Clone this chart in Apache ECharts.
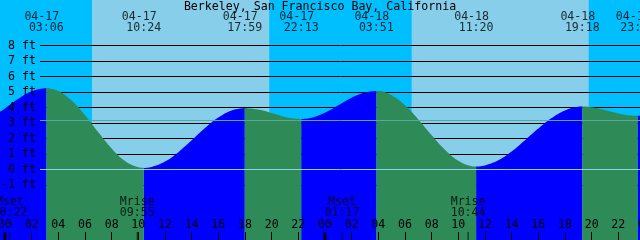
<!DOCTYPE html>
<html><head><meta charset="utf-8">
<script src="https://cdn.jsdelivr.net/npm/echarts@6/dist/echarts.min.js"></script>
<style>html,body{margin:0;padding:0;background:#fff}#c{width:640px;height:240px}</style>
</head><body><div id="c"></div>
<script>
const titleText = 'Berkeley, San Francisco Bay, California';
// hours counted from 04-17 00:00
const tideHours = [-1,0,1,2,3.1,4,5,6,7,8,9,10,10.4,11,12,13,14,15,16,17,17.983,19,20,21,22,22.217,23,24,25,26,27,27.85,28,29,30,31,32,33,34,35,35.333,36,37,38,39,40,41,42,43,43.3,44,45,46,47,47.45,48];
const tideFeet = [3.38,3.94,4.56,5.05,5.26,5.07,4.45,3.50,2.40,1.36,0.55,0.14,0.10,0.16,0.51,1.12,1.88,2.67,3.35,3.81,3.97,3.87,3.64,3.39,3.26,3.25,3.34,3.66,4.14,4.63,4.97,5.07,5.07,4.79,4.14,3.23,2.21,1.27,0.56,0.21,0.19,0.26,0.59,1.16,1.89,2.64,3.32,3.81,4.05,4.06,4.02,3.84,3.62,3.48,3.46,3.48];

const extDates = ['04-17','04-17','04-17','04-17','04-18','04-18','04-18','04-18'];
const extTimes = ['03:06','10:24','17:59','22:13','03:51','11:20','19:18','23:27'];
const extHours = [3.1,10.4,17.983,22.217,27.85,35.333,43.3,47.45];
const extKinds = ['H','L','H','L','H','L','H','L'];

const sunriseHours = [6.525, 30.5];
const sunsetHours = [19.82, 43.78];

const moonNames = ['Mset','Mrise','Mset','Mrise'];
const moonTimes = ['00:22','09:55','01:17','10:44'];
const moonHours = [0.367, 9.917, 25.283, 34.733];

const midnightHours = [0, 24];
const gridFeet = [-1,0,1,2,3,4,5,6,7,8];
const meanFeet = 3.16;
const datumFeet = 0;

const FONT = 'DejaVu Sans Mono';
const FS = 11.6;

function isRising(t){
  for (let i=0;i<extHours.length;i++){ if (t < extHours[i]) return extKinds[i]==='H'; }
  return extKinds[extKinds.length-1]==='L';
}
const risingData=[], fallingData=[];
tideHours.forEach((t,i)=>{
  const h=tideFeet[i];
  if (extHours.indexOf(t)>=0){ risingData.push([t,h]); fallingData.push([t,h]); }
  else if (isRising(t)) { risingData.push([t,h]); fallingData.push([t,'-']); }
  else { risingData.push([t,'-']); fallingData.push([t,h]); }
});

const pad2 = n => (n<10?'0':'')+n;
const chart = echarts.init(document.getElementById('c'), null, {renderer:'canvas'});
const textBase = {fontFamily: FONT, fontSize: FS, color:'#000'};

chart.setOption({
  animation:false,
  title:{text:titleText,left:'center',top:-4,textStyle:Object.assign({fontWeight:'normal'},textBase)},
  grid:{left:-21.667,right:-5,top:-1,bottom:-7,show:true,backgroundColor:'#00BFFF',borderWidth:0,
        containLabel:false,outerBoundsMode:'none'},
  xAxis:{type:'value',min:-2,max:48,interval:2,z:12,
    axisLine:{show:false,onZero:false},splitLine:{show:false},
    axisTick:{show:true,inside:true,length:15,lineStyle:{color:'#000',width:1}},
    axisLabel:Object.assign({inside:true,margin:16,showMinLabel:true,showMaxLabel:true,hideOverlap:false,
      formatter:v=> (v<0||v>48)?'':pad2(v%24)},textBase)},
  yAxis:{type:'value',min:-5,max:11,interval:1,z:12,
    axisLine:{show:false,onZero:false},axisTick:{show:false},splitLine:{show:false},
    axisLabel:Object.assign({inside:true,align:'right',margin:57.7,showMinLabel:false,showMaxLabel:false,
      formatter:v=> (v>=-1&&v<=8)?(v+' ft'):''},textBase)},
  series:[
    {type:'line',z:1,silent:true,symbol:'none',lineStyle:{opacity:0},
     data:tideHours.map((t,i)=>[t,tideFeet[i]]),
     markArea:{z:1,silent:true,itemStyle:{color:'#87CEEB'},
       data:sunriseHours.map((s,i)=>[{xAxis:s},{xAxis:sunsetHours[i]}])},
     markLine:{z:3,silent:true,symbol:['none','none'],label:{show:false},
       lineStyle:{color:'#000',width:1,type:'solid'},
       data:gridFeet.map(f=>[{xAxis:2.625,yAxis:f},{xAxis:48,yAxis:f}])}},
    {type:'line',z:6,silent:true,symbol:'none',smooth:0.4,connectNulls:false,
     lineStyle:{width:0},areaStyle:{origin:'start',color:'#0000FF',opacity:1},data:risingData},
    {type:'line',z:6,silent:true,symbol:'none',smooth:0.4,connectNulls:false,
     lineStyle:{width:0},areaStyle:{origin:'start',color:'#2E8B57',opacity:1},data:fallingData},
    {type:'line',z:8,silent:true,symbol:'none',lineStyle:{opacity:0},data:[],
     markLine:{z:8,silent:true,symbol:['none','none'],label:{show:false},
       data:[
         [{xAxis:2.625,yAxis:meanFeet,lineStyle:{color:'#5aa89c',width:1,type:'solid'}},{xAxis:48,yAxis:meanFeet}],
         [{xAxis:2.625,yAxis:datumFeet,lineStyle:{color:'#8fd3ee',width:1,type:'solid'}},{xAxis:48,yAxis:datumFeet}]
       ]}},
    {type:'scatter',z:10,silent:true,symbol:'circle',symbolSize:1,itemStyle:{color:'transparent'},
     data:extHours.map(t=>[t,9.84]),
     label:Object.assign({show:true,position:'inside',offset:[-4.5,0],formatter:p=>extDates[p.dataIndex]},textBase)},
    {type:'scatter',z:10,silent:true,symbol:'circle',symbolSize:1,itemStyle:{color:'transparent'},
     data:extHours.map(t=>[t,9.11]),
     label:Object.assign({show:true,position:'inside',formatter:p=>extTimes[p.dataIndex]},textBase)},
    {type:'scatter',z:10,silent:true,symbol:'circle',symbolSize:1,itemStyle:{color:'transparent'},
     data:moonHours.map(t=>[t,-2.45]),
     label:Object.assign({show:true,position:'inside',lineHeight:11.6,
       formatter:p=>moonNames[p.dataIndex]+'\n'+moonTimes[p.dataIndex]},textBase)},
    {type:'scatter',z:10,silent:true,symbol:'rect',symbolSize:[1,8],itemStyle:{color:'#000'},
     data:moonHours.map(t=>[t,-4.29])},
    {type:'scatter',z:10,silent:true,symbol:'rect',symbolSize:[3,8],itemStyle:{color:'#000'},
     data:midnightHours.map(t=>[t,-4.29])}
  ]
});
</script></body></html>
